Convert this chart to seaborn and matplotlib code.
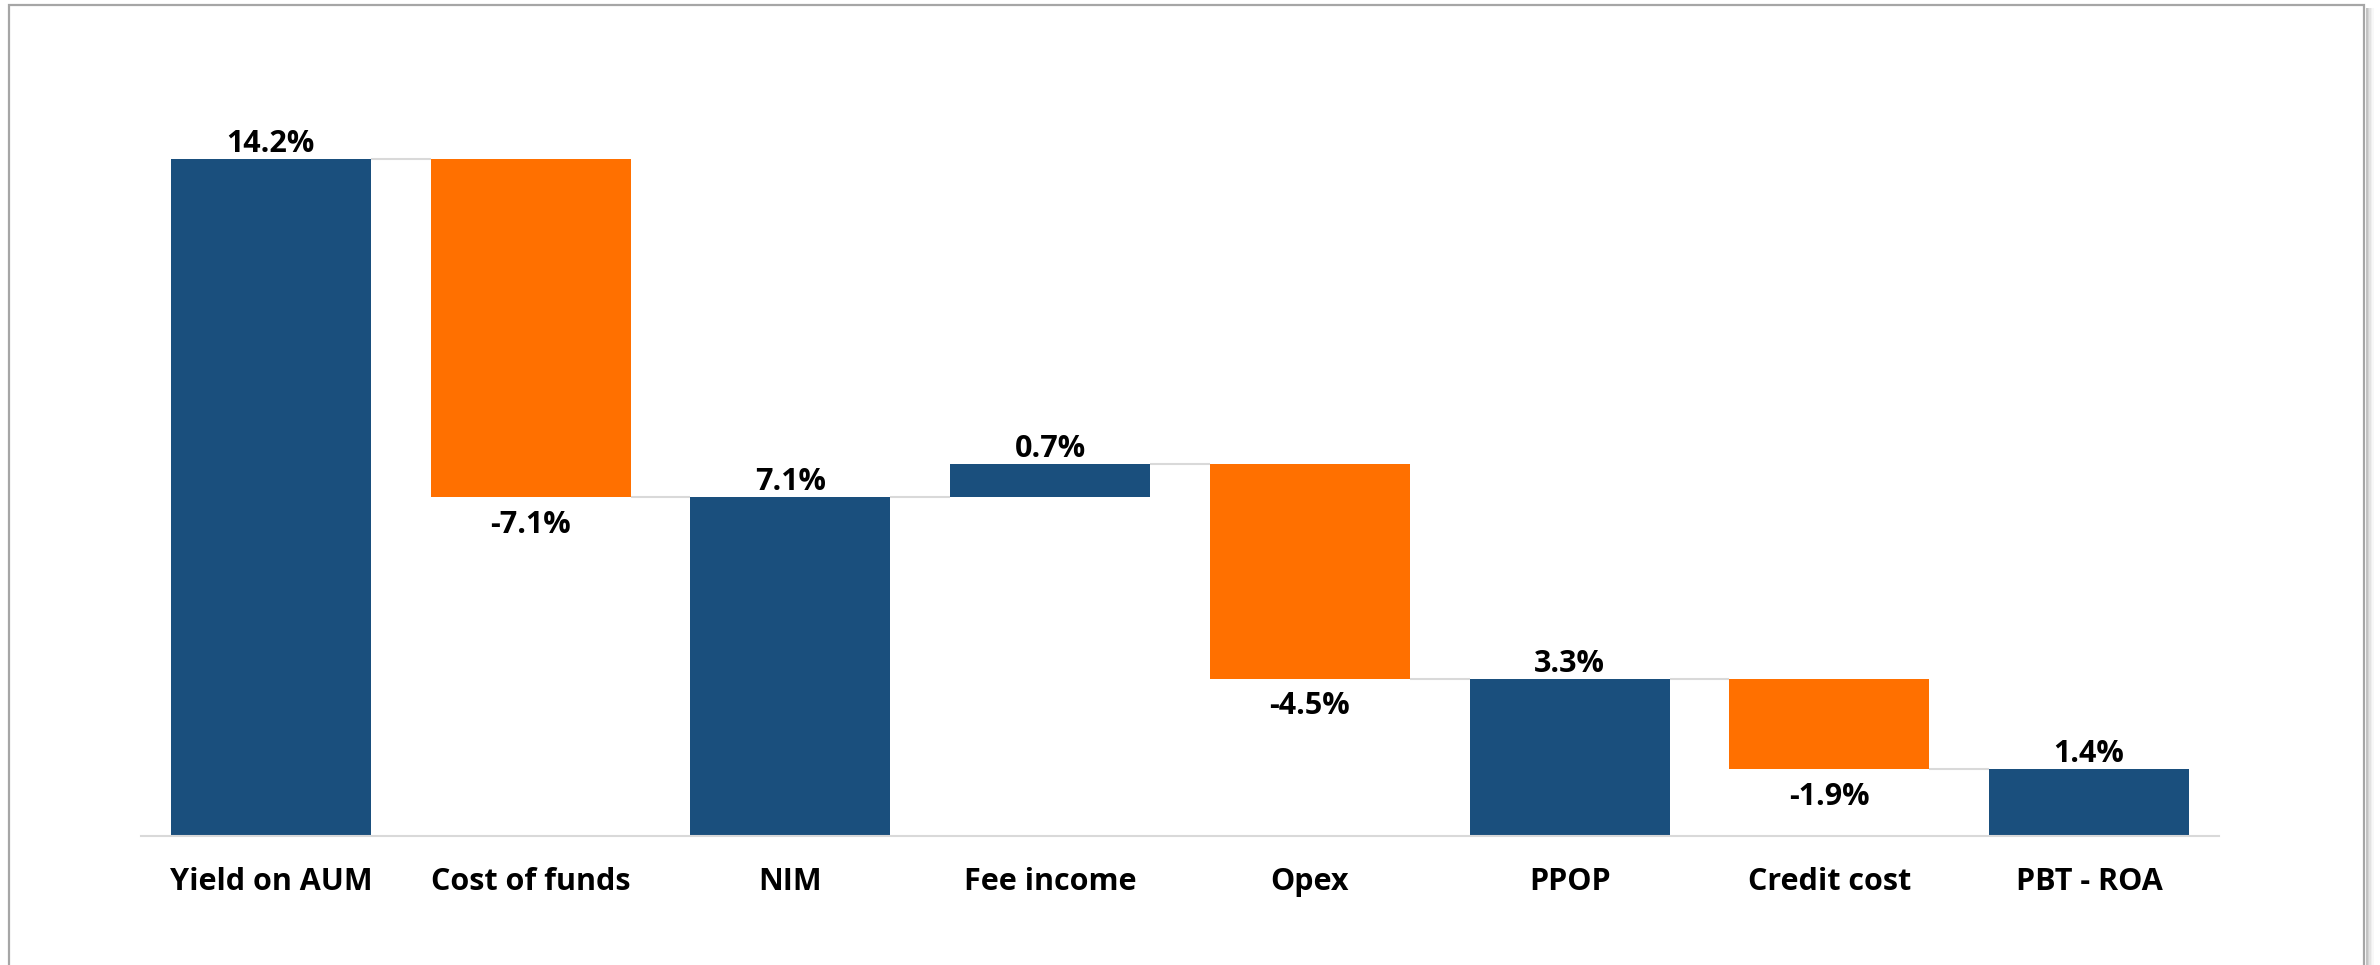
import matplotlib
matplotlib.use("Agg")
import matplotlib.pyplot as plt
from matplotlib.patches import Rectangle
import seaborn as sns
import numpy as np
import pandas as pd

# ---- data ----
categories = ["Yield on AUM", "Cost of funds", "NIM", "Fee income", "Opex",
              "PPOP", "Credit cost", "PBT - ROA"]
values = [14.2, -7.1, 7.1, 0.7, -4.5, 3.3, -1.9, 1.4]
is_total = [True, False, True, False, False, True, False, True]
labels = ["14.2%", "-7.1%", "7.1%", "0.7%", "-4.5%", "3.3%", "-1.9%", "1.4%"]

BLUE = "#1A4F7D"
ORANGE = "#FF7000"

# running totals -> bottoms / tops of each floating bar
bottoms, heights, levels = [], [], []
running = 0.0
for v, tot in zip(values, is_total):
    if tot:
        running = v
        bottoms.append(0.0)
        heights.append(v)
    else:
        start = running
        running = running + v
        bottoms.append(min(start, running))
        heights.append(abs(v))
    levels.append(running)
colors = [BLUE if v >= 0 else ORANGE for v in values]

df = pd.DataFrame({"cat": categories, "h": heights})

sns.set_theme(style="white")
plt.rcParams["font.family"] = ["Open Sans", "DejaVu Sans"]

W, H = 2380, 965
fig = plt.figure(figsize=(W / 100, H / 100), dpi=100)
fig.patch.set_facecolor("white")

ax_left, ax_right = 141 / W, 2219 / W
ax_bottom, ax_top = (H - 836) / H, (H - 73) / H
ax = fig.add_axes([ax_left, ax_bottom, ax_right - ax_left, ax_top - ax_bottom])

bar_w = 0.77
sns.barplot(data=df, x="cat", y="h", hue="cat", palette=colors,
            width=bar_w, legend=False, ax=ax, saturation=1, linewidth=0,
            order=categories, hue_order=categories)
for p, b in zip(ax.patches, bottoms):
    p.set_y(b)

ax.set_xlim(-0.5, len(categories) - 0.5)
ax.set_ylim(0, 16)

# connector lines
for i in range(len(categories) - 1):
    ax.plot([i + bar_w / 2, i + 1 - bar_w / 2], [levels[i], levels[i]],
            color="#D9D9D9", lw=1.5, zorder=1, solid_capstyle="butt")

# value labels
for i, (v, b, h, lab) in enumerate(zip(values, bottoms, heights, labels)):
    if v >= 0:
        ax.annotate(lab, (i, b + h), xytext=(0, 5), textcoords="offset points",
                    ha="center", va="baseline", fontsize=22, fontweight="bold",
                    color="black")
    else:
        ax.annotate(lab, (i, b), xytext=(0, -9), textcoords="offset points",
                    ha="center", va="top", fontsize=22, fontweight="bold",
                    color="black")

ax.set_xlabel("")
ax.set_ylabel("")
ax.set_yticks([])
ax.tick_params(axis="x", length=0, pad=22)
for t in ax.get_xticklabels():
    t.set_fontsize(22)
    t.set_fontweight("bold")
    t.set_color("black")
for s in ["top", "left", "right"]:
    ax.spines[s].set_visible(False)
ax.spines["bottom"].set_color("#D9D9D9")
ax.spines["bottom"].set_linewidth(1.5)
ax.set_facecolor("none")

# frame with a right-hand shadow
for k, a in enumerate([0.35, 0.25, 0.16, 0.09, 0.04]):
    fig.patches.append(Rectangle(((2366 + k * 1.6) / W, -0.05), 1.6 / W, (H - 8) / H + 0.05,
                                 transform=fig.transFigure, facecolor="#555555",
                                 edgecolor="none", alpha=a, zorder=0))
fig.patches.append(Rectangle((9 / W, -0.05), (2364 - 9) / W, (H - 5) / H + 0.05,
                             transform=fig.transFigure, facecolor="none",
                             edgecolor="#A6A6A6", linewidth=1.6, zorder=1))

fig.savefig("out.png", dpi=100, facecolor="white")
